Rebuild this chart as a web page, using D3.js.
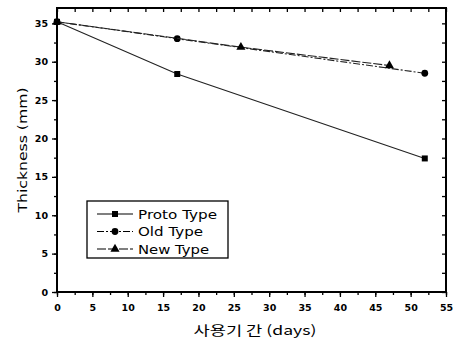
<!DOCTYPE html>
<html>
<head>
<meta charset="utf-8">
<script src="https://cdn.jsdelivr.net/npm/d3@7"></script>
<style>
  body { margin: 0; background: #fff; }
  svg { display: block; font-family: "DejaVu Sans", "Liberation Sans", Arial, sans-serif; }
  .tick text { font-family: "DejaVu Sans", sans-serif; font-weight: bold; font-size: 9.5px; fill: #000; }
</style>
</head>
<body>
<svg id="chart" width="453" height="342"></svg>
<script>
// values
const protoDays = [0, 17, 52];
const protoThickness = [35.2, 28.4, 17.4];
const oldDays = [0, 17, 52];
const oldThickness = [35.2, 33.0, 28.5];
const newDays = [0, 26, 47];
const newThickness = [35.2, 31.9, 29.5];
const xTicks = [0, 5, 10, 15, 20, 25, 30, 35, 40, 45, 50, 55];
const yTicks = [0, 5, 10, 15, 20, 25, 30, 35];
const seriesNames = ['Proto Type', 'Old Type', 'New Type'];

const svg = d3.select('#chart');
const margin = { left: 57, right: 7, top: 8, bottom: 50 };
const width = 453 - margin.left - margin.right;
const height = 342 - margin.top - margin.bottom;

const x = d3.scaleLinear().domain([0, 55]).range([margin.left, margin.left + width]);
const y = d3.scaleLinear().domain([0, 37]).range([margin.top + height, margin.top]);

const minorX = d3.range(0, 55.01, 2.5);
const minorY = d3.range(0, 37, 2.5);

// bottom axis, outward ticks
svg.append('g')
    .attr('transform', `translate(0,${y(0)})`)
    .call(d3.axisBottom(x).tickValues(xTicks).tickSize(5).tickPadding(7))
    .call((g) => g.select('.domain').remove());
svg.append('g')
    .attr('transform', `translate(0,${y(0)})`)
    .call(d3.axisBottom(x).tickValues(minorX).tickSize(3).tickFormat(''))
    .call((g) => g.select('.domain').remove());

// left axis, outward ticks
svg.append('g')
    .attr('transform', `translate(${x(0)},0)`)
    .call(d3.axisLeft(y).tickValues(yTicks).tickSize(5).tickPadding(4))
    .call((g) => g.select('.domain').remove());
svg.append('g')
    .attr('transform', `translate(${x(0)},0)`)
    .call(d3.axisLeft(y).tickValues(minorY).tickSize(3).tickFormat(''))
    .call((g) => g.select('.domain').remove());

// top and right, inward ticks
svg.append('g')
    .attr('transform', `translate(0,${y.range()[1]})`)
    .call(d3.axisBottom(x).tickValues(minorX).tickSize(4).tickFormat(''))
    .call((g) => g.select('.domain').remove());
svg.append('g')
    .attr('transform', `translate(${x(55)},0)`)
    .call(d3.axisLeft(y).tickValues(minorY).tickSize(4).tickFormat(''))
    .call((g) => g.select('.domain').remove());

svg.selectAll('.tick line').attr('stroke', '#000').attr('stroke-width', 1.3);

// frame
svg.append('rect')
    .attr('x', x(0)).attr('y', y(37))
    .attr('width', x(55) - x(0)).attr('height', y(0) - y(37))
    .attr('fill', 'none').attr('stroke', '#000').attr('stroke-width', 2);

const series = [
    { name: seriesNames[0], days: protoDays, values: protoThickness, symbol: d3.symbolSquare, dash: null, size: 36, len: 79 },
    { name: seriesNames[1], days: oldDays, values: oldThickness, symbol: d3.symbolCircle, dash: '7,2,2,2', size: 36, len: 65 },
    { name: seriesNames[2], days: newDays, values: newThickness, symbol: d3.symbolTriangle, dash: '9,2', size: 36, len: 71 },
];

const line = d3.line().x((d) => x(d[0])).y((d) => y(d[1]));

series.forEach((s) => {
    const pts = s.days.map((d, i) => [d, s.values[i]]);
    svg.append('path')
        .datum(pts)
        .attr('d', line)
        .attr('fill', 'none')
        .attr('stroke', '#222')
        .attr('stroke-width', 1.1)
        .attr('stroke-dasharray', s.dash);
    svg.selectAll(null)
        .data(pts)
        .enter()
        .append('path')
        .attr('d', d3.symbol(s.symbol, s.size))
        .attr('transform', (d) => `translate(${x(d[0])},${y(d[1])})`)
        .attr('fill', '#000');
});

// legend
const legend = svg.append('g').attr('transform', 'translate(87,201)');
legend.append('rect')
    .attr('width', 141).attr('height', 57)
    .attr('fill', '#fff').attr('stroke', '#000').attr('stroke-width', 1.3);
series.forEach((s, i) => {
    const ly = 13 + i * 17.5;
    legend.append('line')
        .attr('x1', 10).attr('x2', 46).attr('y1', ly).attr('y2', ly)
        .attr('stroke', '#000').attr('stroke-width', 1.1)
        .attr('stroke-dasharray', s.dash);
    legend.append('path')
        .attr('d', d3.symbol(s.symbol, s.size))
        .attr('transform', `translate(28,${ly})`);
    legend.append('text')
        .attr('x', 51).attr('y', ly)
        .attr('dy', '0.35em')
        .attr('font-size', 13)
        .attr('textLength', s.len)
        .attr('lengthAdjust', 'spacingAndGlyphs')
        .text(s.name);
});

// axis titles
svg.append('text')
    .attr('transform', `translate(27,${(y(0) + y(37)) / 2}) rotate(-90)`)
    .attr('text-anchor', 'middle')
    .attr('font-size', 13)
    .attr('textLength', 125)
    .attr('lengthAdjust', 'spacingAndGlyphs')
    .text('Thickness (mm)');

svg.append('text')
    .attr('x', 255).attr('y', 335)
    .attr('text-anchor', 'middle')
    .attr('font-size', 13)
    .attr('textLength', 123)
    .attr('lengthAdjust', 'spacingAndGlyphs')
    .attr('font-family', '"Noto Sans CJK KR", "DejaVu Sans", sans-serif')
    .text('사용기 간 (days)');
</script>
</body>
</html>
